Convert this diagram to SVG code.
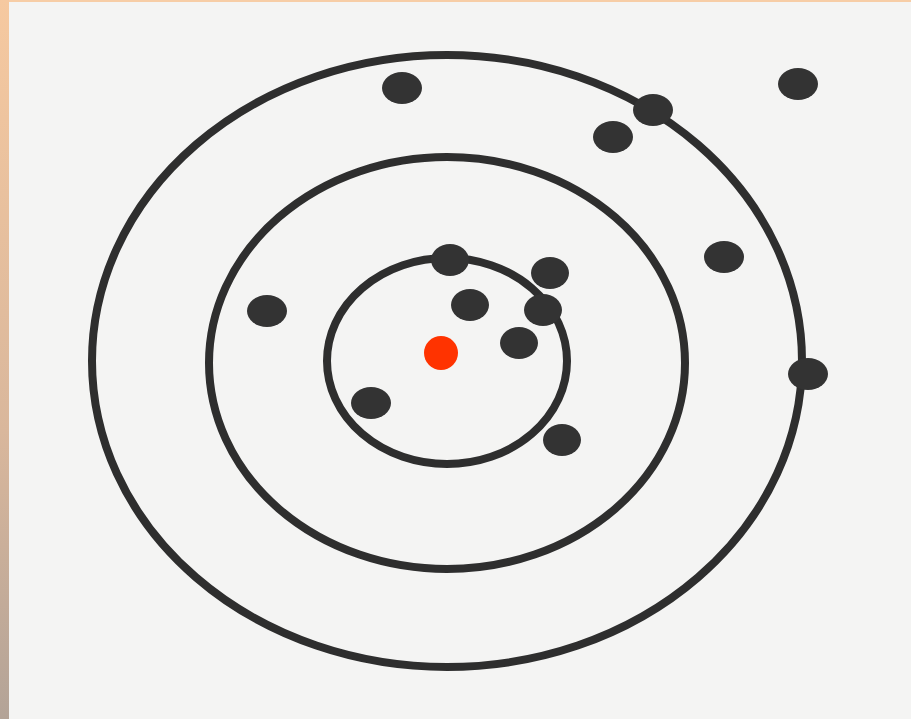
<svg xmlns="http://www.w3.org/2000/svg" width="911" height="719" viewBox="0 0 911 719">
<defs>
<linearGradient id="side" x1="0" y1="0" x2="0" y2="1">
<stop offset="0" stop-color="#f6c9a0"/>
<stop offset="0.6" stop-color="#d9b79c"/>
<stop offset="1" stop-color="#b3a397"/>
</linearGradient>
<style>
.ring{fill:none;stroke:#2e2e2e;stroke-width:8}
.dot{fill:#333333}
</style>
</defs>
<rect width="911" height="719" fill="#f4f4f3"/>
<rect x="0" y="0" width="911" height="2" fill="#f7cda6"/>
<rect x="0" y="0" width="9" height="719" fill="url(#side)"/>
<g id="rings">
<ellipse class="ring" cx="447" cy="361" rx="355" ry="306"/>
<ellipse class="ring" cx="447" cy="363" rx="238" ry="206"/>
<ellipse class="ring" cx="447" cy="361" rx="120" ry="103"/>
</g>
<g id="dots">
<ellipse class="dot" cx="402" cy="88" rx="20" ry="16"/>
<ellipse class="dot" cx="653" cy="110" rx="20" ry="16"/>
<ellipse class="dot" cx="613" cy="137" rx="20" ry="16"/>
<ellipse class="dot" cx="798" cy="84" rx="20" ry="16"/>
<ellipse class="dot" cx="724" cy="257" rx="20" ry="16"/>
<ellipse class="dot" cx="808" cy="374" rx="20" ry="16"/>
<ellipse class="dot" cx="267" cy="311" rx="20" ry="16"/>
<ellipse class="dot" cx="450" cy="260" rx="19" ry="16"/>
<ellipse class="dot" cx="550" cy="273" rx="19" ry="16"/>
<ellipse class="dot" cx="470" cy="305" rx="19" ry="16"/>
<ellipse class="dot" cx="543" cy="310" rx="19" ry="16"/>
<ellipse class="dot" cx="519" cy="343" rx="19" ry="16"/>
<ellipse class="dot" cx="371" cy="403" rx="20" ry="16"/>
<ellipse class="dot" cx="562" cy="440" rx="19" ry="16"/>
</g>
<g id="center">
<circle cx="441" cy="353" r="17" fill="#ff3300"/>
</g>
</svg>
